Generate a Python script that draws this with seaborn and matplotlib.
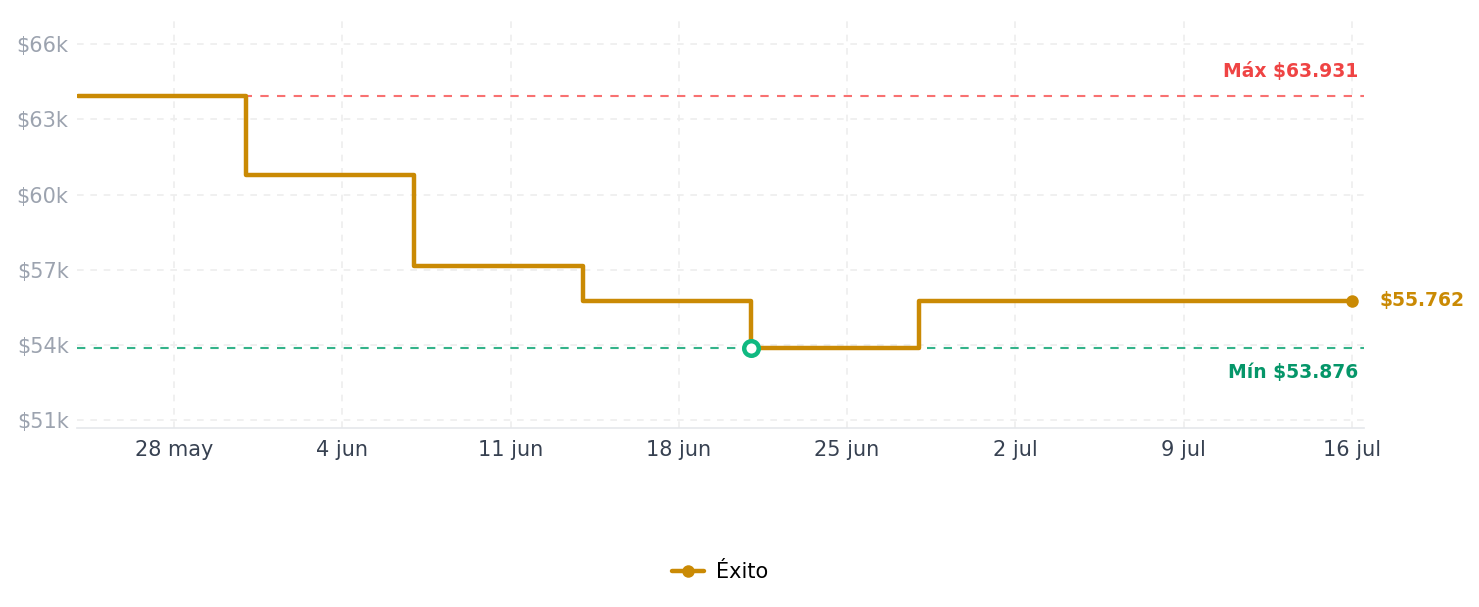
import matplotlib
matplotlib.use("Agg")
import matplotlib.pyplot as plt
import seaborn as sns
import pandas as pd

dates = ["2024-05-24", "2024-05-31", "2024-06-07", "2024-06-14", "2024-06-21", "2024-06-28", "2024-07-16"]
prices = [63931, 60775, 57145, 55750, 53876, 55762, 55762]
series_name = "Éxito"
tick_dates = ["2024-05-28", "2024-06-04", "2024-06-11", "2024-06-18", "2024-06-25", "2024-07-02", "2024-07-09", "2024-07-16"]
tick_labels = ["28 may", "4 jun", "11 jun", "18 jun", "25 jun", "2 jul", "9 jul", "16 jul"]
y_ticks = [51000, 54000, 57000, 60000, 63000, 66000]
y_labels = ["$51k", "$54k", "$57k", "$60k", "$63k", "$66k"]
max_label = "Máx $63.931"
min_label = "Mín $53.876"
last_label = "$55.762"

sns.set_theme(style="white")
plt.rcParams["font.family"] = ["DejaVu Sans"]

df = pd.DataFrame({"fecha": pd.to_datetime(dates), "precio": prices, "tienda": series_name})

fig = plt.figure(figsize=(14.79, 6.07), dpi=100)
ax = fig.add_axes([0.052, 0.295, 0.8702, 0.68])

line_color = "#ca8a04"
vmax = max(prices)
vmin = min(prices)
imin = prices.index(vmin)

ax.axhline(vmax, color="#f87171", lw=1.5, ls=(0, (4, 4)), zorder=2)
ax.axhline(vmin, color="#34b38a", lw=1.5, ls=(0, (4, 4)), zorder=2)

sns.lineplot(data=df, x="fecha", y="precio", hue="tienda", palette=[line_color],
             drawstyle="steps-post", lw=3.2, marker="o", markersize=9,
             markevery=[len(prices) - 1], markeredgewidth=0, ax=ax, zorder=3)

ax.plot(df["fecha"].iloc[imin], vmin, "o", ms=10.5, mfc="white", mec="#10b981",
        mew=3.2, zorder=5)

x0 = pd.Timestamp("2024-05-24") - pd.Timedelta(hours=1)
x1 = pd.Timestamp("2024-07-16") + pd.Timedelta(hours=12)
ax.set_xlim(x0, x1)
ax.set_ylim(50680, 67160)

ax.set_xticks(pd.to_datetime(tick_dates))
ax.set_xticklabels(tick_labels, color="#374151", fontsize=15)
ax.set_yticks(y_ticks)
ax.set_yticklabels(y_labels, color="#9ca3af", fontsize=15)
ax.tick_params(axis="both", length=0)
ax.tick_params(axis="x", pad=9)
ax.tick_params(axis="y", pad=6)
ax.set_xlabel("")
ax.set_ylabel("")

ax.grid(True, color="#eeeeee", ls=(0, (4, 4)), lw=1.2)
for s in ["top", "right", "left"]:
    ax.spines[s].set_visible(False)
ax.spines["bottom"].set_color("#e5e7eb")
ax.spines["bottom"].set_linewidth(1.2)

ax.annotate(max_label, xy=(1.0, vmax), xycoords=("axes fraction", "data"),
            xytext=(-4, 11), textcoords="offset points", ha="right", va="bottom",
            color="#ef4444", fontsize=13.5, fontweight="bold")
ax.annotate(min_label, xy=(1.0, vmin), xycoords=("axes fraction", "data"),
            xytext=(-4, -11), textcoords="offset points", ha="right", va="top",
            color="#059669", fontsize=13.5, fontweight="bold")
ax.annotate(last_label, xy=(df["fecha"].iloc[-1], prices[-1]),
            xytext=(20, 0), textcoords="offset points", ha="left", va="center",
            color=line_color, fontsize=13.5, fontweight="bold", annotation_clip=False)

trans = matplotlib.transforms.blended_transform_factory(ax.transAxes, fig.transFigure)
leg = ax.legend(loc="center", bbox_to_anchor=(0.5, 0.058), bbox_transform=trans,
                frameon=False, fontsize=15, handlelength=1.5, handletextpad=0.6,
                title=None)
for t in leg.get_texts():
    t.set_color("black")

fig.savefig("out.png", dpi=100)
